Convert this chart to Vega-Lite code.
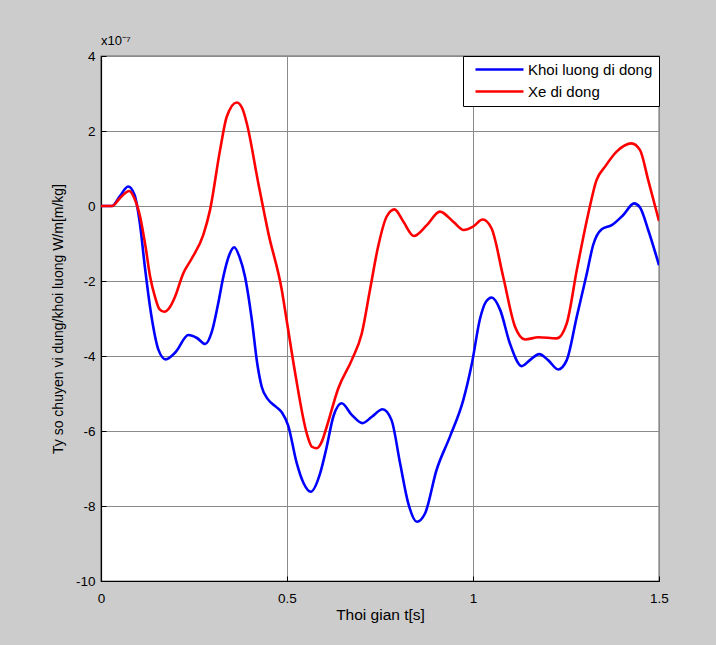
{
  "$schema": "https://vega.github.io/schema/vega-lite/v6.json",
  "width": 558,
  "height": 525,
  "autosize": {"type": "none"},
  "padding": {"left": 101, "top": 56, "right": 57, "bottom": 64},
  "background": "#cccccc",
  "title": {"text": "x10⁻⁷", "anchor": "start", "frame": "group", "orient": "top", "offset": 1, "font": "Liberation Sans", "fontSize": 13, "fontWeight": "normal", "color": "#000000", "dx": 0},
  "config": {
    "font": "Liberation Sans",
    "view": {"fill": "#ffffff", "stroke": "#000000", "strokeWidth": 1.2}
  },
  "datasets": {
    "series": [
      {"t": 0.0, "v": 0.0, "s": "Khoi luong di dong"},
      {"t": 0.03, "v": 0.0, "s": "Khoi luong di dong"},
      {"t": 0.05, "v": 0.25, "s": "Khoi luong di dong"},
      {"t": 0.073, "v": 0.52, "s": "Khoi luong di dong"},
      {"t": 0.09, "v": 0.3, "s": "Khoi luong di dong"},
      {"t": 0.105, "v": -0.5, "s": "Khoi luong di dong"},
      {"t": 0.118, "v": -1.63, "s": "Khoi luong di dong"},
      {"t": 0.135, "v": -2.9, "s": "Khoi luong di dong"},
      {"t": 0.155, "v": -3.85, "s": "Khoi luong di dong"},
      {"t": 0.174, "v": -4.09, "s": "Khoi luong di dong"},
      {"t": 0.2, "v": -3.9, "s": "Khoi luong di dong"},
      {"t": 0.235, "v": -3.44, "s": "Khoi luong di dong"},
      {"t": 0.258, "v": -3.52, "s": "Khoi luong di dong"},
      {"t": 0.28, "v": -3.68, "s": "Khoi luong di dong"},
      {"t": 0.298, "v": -3.35, "s": "Khoi luong di dong"},
      {"t": 0.315, "v": -2.6, "s": "Khoi luong di dong"},
      {"t": 0.329, "v": -1.88, "s": "Khoi luong di dong"},
      {"t": 0.345, "v": -1.3, "s": "Khoi luong di dong"},
      {"t": 0.358, "v": -1.1, "s": "Khoi luong di dong"},
      {"t": 0.372, "v": -1.35, "s": "Khoi luong di dong"},
      {"t": 0.387, "v": -1.88, "s": "Khoi luong di dong"},
      {"t": 0.405, "v": -3.0, "s": "Khoi luong di dong"},
      {"t": 0.42, "v": -4.2, "s": "Khoi luong di dong"},
      {"t": 0.432, "v": -4.82, "s": "Khoi luong di dong"},
      {"t": 0.45, "v": -5.17, "s": "Khoi luong di dong"},
      {"t": 0.47, "v": -5.35, "s": "Khoi luong di dong"},
      {"t": 0.486, "v": -5.5, "s": "Khoi luong di dong"},
      {"t": 0.503, "v": -5.85, "s": "Khoi luong di dong"},
      {"t": 0.526, "v": -6.85, "s": "Khoi luong di dong"},
      {"t": 0.545, "v": -7.4, "s": "Khoi luong di dong"},
      {"t": 0.564, "v": -7.62, "s": "Khoi luong di dong"},
      {"t": 0.589, "v": -7.13, "s": "Khoi luong di dong"},
      {"t": 0.605, "v": -6.5, "s": "Khoi luong di dong"},
      {"t": 0.625, "v": -5.6, "s": "Khoi luong di dong"},
      {"t": 0.647, "v": -5.26, "s": "Khoi luong di dong"},
      {"t": 0.674, "v": -5.57, "s": "Khoi luong di dong"},
      {"t": 0.703, "v": -5.79, "s": "Khoi luong di dong"},
      {"t": 0.728, "v": -5.62, "s": "Khoi luong di dong"},
      {"t": 0.757, "v": -5.42, "s": "Khoi luong di dong"},
      {"t": 0.781, "v": -5.71, "s": "Khoi luong di dong"},
      {"t": 0.804, "v": -6.86, "s": "Khoi luong di dong"},
      {"t": 0.826, "v": -7.93, "s": "Khoi luong di dong"},
      {"t": 0.849, "v": -8.42, "s": "Khoi luong di dong"},
      {"t": 0.871, "v": -8.2, "s": "Khoi luong di dong"},
      {"t": 0.902, "v": -7.04, "s": "Khoi luong di dong"},
      {"t": 0.938, "v": -6.15, "s": "Khoi luong di dong"},
      {"t": 0.974, "v": -5.17, "s": "Khoi luong di dong"},
      {"t": 0.997, "v": -4.2, "s": "Khoi luong di dong"},
      {"t": 1.019, "v": -3.0, "s": "Khoi luong di dong"},
      {"t": 1.035, "v": -2.55, "s": "Khoi luong di dong"},
      {"t": 1.05, "v": -2.44, "s": "Khoi luong di dong"},
      {"t": 1.073, "v": -2.77, "s": "Khoi luong di dong"},
      {"t": 1.099, "v": -3.66, "s": "Khoi luong di dong"},
      {"t": 1.131, "v": -4.27, "s": "Khoi luong di dong"},
      {"t": 1.153, "v": -4.11, "s": "Khoi luong di dong"},
      {"t": 1.178, "v": -3.95, "s": "Khoi luong di dong"},
      {"t": 1.202, "v": -4.11, "s": "Khoi luong di dong"},
      {"t": 1.229, "v": -4.36, "s": "Khoi luong di dong"},
      {"t": 1.252, "v": -4.11, "s": "Khoi luong di dong"},
      {"t": 1.279, "v": -2.95, "s": "Khoi luong di dong"},
      {"t": 1.306, "v": -1.8, "s": "Khoi luong di dong"},
      {"t": 1.323, "v": -1.04, "s": "Khoi luong di dong"},
      {"t": 1.346, "v": -0.62, "s": "Khoi luong di dong"},
      {"t": 1.373, "v": -0.51, "s": "Khoi luong di dong"},
      {"t": 1.404, "v": -0.24, "s": "Khoi luong di dong"},
      {"t": 1.433, "v": 0.07, "s": "Khoi luong di dong"},
      {"t": 1.449, "v": -0.04, "s": "Khoi luong di dong"},
      {"t": 1.471, "v": -0.64, "s": "Khoi luong di dong"},
      {"t": 1.5, "v": -1.58, "s": "Khoi luong di dong"},
      {"t": 0.0, "v": 0.0, "s": "Xe di dong"},
      {"t": 0.03, "v": 0.0, "s": "Xe di dong"},
      {"t": 0.05, "v": 0.2, "s": "Xe di dong"},
      {"t": 0.076, "v": 0.4, "s": "Xe di dong"},
      {"t": 0.09, "v": 0.2, "s": "Xe di dong"},
      {"t": 0.105, "v": -0.28, "s": "Xe di dong"},
      {"t": 0.12, "v": -1.1, "s": "Xe di dong"},
      {"t": 0.132, "v": -1.88, "s": "Xe di dong"},
      {"t": 0.145, "v": -2.42, "s": "Xe di dong"},
      {"t": 0.157, "v": -2.75, "s": "Xe di dong"},
      {"t": 0.17, "v": -2.82, "s": "Xe di dong"},
      {"t": 0.185, "v": -2.7, "s": "Xe di dong"},
      {"t": 0.199, "v": -2.42, "s": "Xe di dong"},
      {"t": 0.221, "v": -1.8, "s": "Xe di dong"},
      {"t": 0.244, "v": -1.4, "s": "Xe di dong"},
      {"t": 0.275, "v": -0.77, "s": "Xe di dong"},
      {"t": 0.293, "v": -0.11, "s": "Xe di dong"},
      {"t": 0.32, "v": 1.49, "s": "Xe di dong"},
      {"t": 0.338, "v": 2.38, "s": "Xe di dong"},
      {"t": 0.365, "v": 2.76, "s": "Xe di dong"},
      {"t": 0.38, "v": 2.6, "s": "Xe di dong"},
      {"t": 0.392, "v": 2.2, "s": "Xe di dong"},
      {"t": 0.423, "v": 0.6, "s": "Xe di dong"},
      {"t": 0.45, "v": -0.73, "s": "Xe di dong"},
      {"t": 0.486, "v": -2.24, "s": "Xe di dong"},
      {"t": 0.499, "v": -3.04, "s": "Xe di dong"},
      {"t": 0.522, "v": -4.46, "s": "Xe di dong"},
      {"t": 0.553, "v": -6.06, "s": "Xe di dong"},
      {"t": 0.567, "v": -6.42, "s": "Xe di dong"},
      {"t": 0.58, "v": -6.46, "s": "Xe di dong"},
      {"t": 0.595, "v": -6.25, "s": "Xe di dong"},
      {"t": 0.607, "v": -5.88, "s": "Xe di dong"},
      {"t": 0.638, "v": -4.86, "s": "Xe di dong"},
      {"t": 0.674, "v": -4.11, "s": "Xe di dong"},
      {"t": 0.701, "v": -3.4, "s": "Xe di dong"},
      {"t": 0.723, "v": -2.24, "s": "Xe di dong"},
      {"t": 0.745, "v": -1.08, "s": "Xe di dong"},
      {"t": 0.768, "v": -0.28, "s": "Xe di dong"},
      {"t": 0.789, "v": -0.09, "s": "Xe di dong"},
      {"t": 0.813, "v": -0.42, "s": "Xe di dong"},
      {"t": 0.841, "v": -0.8, "s": "Xe di dong"},
      {"t": 0.876, "v": -0.51, "s": "Xe di dong"},
      {"t": 0.911, "v": -0.15, "s": "Xe di dong"},
      {"t": 0.947, "v": -0.42, "s": "Xe di dong"},
      {"t": 0.975, "v": -0.64, "s": "Xe di dong"},
      {"t": 1.0, "v": -0.55, "s": "Xe di dong"},
      {"t": 1.026, "v": -0.36, "s": "Xe di dong"},
      {"t": 1.05, "v": -0.6, "s": "Xe di dong"},
      {"t": 1.081, "v": -1.88, "s": "Xe di dong"},
      {"t": 1.113, "v": -3.22, "s": "Xe di dong"},
      {"t": 1.14, "v": -3.56, "s": "Xe di dong"},
      {"t": 1.176, "v": -3.5, "s": "Xe di dong"},
      {"t": 1.225, "v": -3.53, "s": "Xe di dong"},
      {"t": 1.252, "v": -3.13, "s": "Xe di dong"},
      {"t": 1.279, "v": -1.71, "s": "Xe di dong"},
      {"t": 1.31, "v": -0.2, "s": "Xe di dong"},
      {"t": 1.332, "v": 0.69, "s": "Xe di dong"},
      {"t": 1.355, "v": 1.05, "s": "Xe di dong"},
      {"t": 1.386, "v": 1.45, "s": "Xe di dong"},
      {"t": 1.426, "v": 1.67, "s": "Xe di dong"},
      {"t": 1.449, "v": 1.49, "s": "Xe di dong"},
      {"t": 1.471, "v": 0.69, "s": "Xe di dong"},
      {"t": 1.5, "v": -0.4, "s": "Xe di dong"}
    ]
  },
  "data": {"name": "series"},
  "mark": {"type": "line", "strokeWidth": 2.6, "interpolate": "monotone", "clip": true},
  "encoding": {
    "x": {
      "field": "t", "type": "quantitative",
      "scale": {"domain": [0, 1.5], "nice": false, "zero": false},
      "axis": {
        "title": "Thoi gian t[s]", "titleFontSize": 15.5, "titleFontWeight": "normal", "titleColor": "#000000", "titlePadding": 3,
        "values": [0, 0.5, 1, 1.5], "labelFontSize": 13.5, "labelColor": "#000000", "labelPadding": 15,
        "labelExpr": "'' + datum.value",
        "tickSize": -5, "tickColor": "#000000", "domainColor": "#000000", "domainWidth": 1.2,
        "grid": true, "gridColor": "#8a8a8a", "gridWidth": 1, "labelFlush": false
      }
    },
    "y": {
      "field": "v", "type": "quantitative",
      "scale": {"domain": [-10, 4], "nice": false, "zero": false},
      "axis": {
        "title": "Ty so chuyen vi dung/khoi luong W/m[m/kg]", "titleFontSize": 14, "titleFontWeight": "normal", "titleColor": "#000000", "titlePadding": 10,
        "values": [-10, -8, -6, -4, -2, 0, 2, 4], "labelFontSize": 13.5, "labelColor": "#000000", "labelPadding": 11,
        "labelExpr": "datum.value < 0 ? '-' + abs(datum.value) : '' + datum.value",
        "tickSize": -5, "tickColor": "#000000", "domainColor": "#000000", "domainWidth": 1.2,
        "grid": true, "gridColor": "#8a8a8a", "gridWidth": 1, "labelFlush": false
      }
    },
    "color": {
      "field": "s", "type": "nominal",
      "scale": {"domain": ["Khoi luong di dong", "Xe di dong"], "range": ["#0000ff", "#ff0000"]},
      "legend": {
        "title": null, "orient": "top-right", "offset": 0,
        "fillColor": "#ffffff", "strokeColor": "#000000", "padding": 6,
        "symbolType": "M-4.8,0H4.8", "symbolSize": 100, "symbolStrokeWidth": 2.6, "symbolOffset": 23,
        "labelFontSize": 15, "labelColor": "#000000", "labelOffset": 21, "rowPadding": 6,
        "labelLimit": 300
      }
    }
  }
}
